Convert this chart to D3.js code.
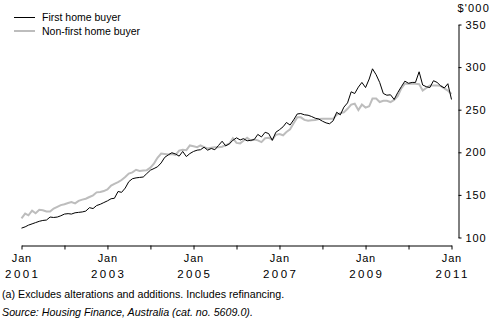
<!DOCTYPE html>
<html><head><meta charset="utf-8">
<script src="https://cdn.jsdelivr.net/npm/d3@7"></script>
<style>
body{margin:0;background:#fff;}
svg{display:block;font-family:"Liberation Sans",Arial,sans-serif;}
</style></head>
<body><svg id="c" width="496" height="331"></svg>
<script>
const startYear = 2001, endYear = 2011;
const seriesNames = ["First home buyer", "Non-first home buyer"];
const firstHome = [
111,112.5,114.5,116,117.5,119,120,120.5,124,123.5,124,125.5,
127.5,128,127.5,129,129.5,130,131,135,134,137.5,139,141,
143,145.5,146,154,153,158,165.5,169,170,170.5,171,175,
179,181,183,187.5,194,197,199.5,198,195.5,201,195,198.5,
201,202.5,203,206,202.5,204.5,203,208,213,207.5,210,214,
217,214.5,216,213.5,214,215,221,218,223.5,222,214,223.5,
226.5,230,235,232,238,245,245.5,244,243.5,242,240,239,
236.5,234.5,233.5,237,247,244,253,258,271,269,276.5,282,
276,286,298,291,282,269,267,267.5,262,270,277,283.5,
281,282,282,294.5,279,277,276,284,282,278,275.5,280.5,
262];
const nonFirstHome = [
122.5,128,126,131.5,128.5,132.5,132,130.5,130.5,134,136,138,
139,140.5,141.5,140,143,144.5,145.5,147.5,149.5,153,153.5,154.5,
156.5,161,163,165,167.5,171,175,176.5,179.5,178,178.5,179,
182,187,193.5,198.5,198,197.5,198,197,202,203,202.5,208,
207,206,208,206,204.5,205.5,206,206,206.5,208.5,210,216.5,
211,210.5,213.5,217,214,215,214,212,216.5,217,215,220.5,
221.5,220,223.8,227,234,241,241,238,237,237.5,238,239,
239.5,239.5,239.5,239.5,244,246,247,251,256,257,249.5,256,
252.5,254,263,263,259,260.5,260.5,259,261.5,266,275,280.5,
280.5,280.5,280.5,280,272.5,275.5,278.5,278.5,278.5,278,275,272.5,
268.5];
const yTicks = [100,150,200,250,300,350];
const yUnit = "$'000";
const footnote = "(a) Excludes alterations and additions. Includes refinancing.";
const source = "Source: Housing Finance, Australia (cat. no. 5609.0).";

const dates = firstHome.map((d,i)=>new Date(startYear, i, 1));
const svg = d3.select("#c");
const x = d3.scaleTime().domain([new Date(startYear,0,1), new Date(endYear,0,1)]).range([21.5, 451.5]);
const y = d3.scaleLinear().domain([100,350]).range([237.5, 24.5]);

// x axis
const xAxisY = 245.5;
const xg = svg.append("g").attr("transform",`translate(0,${xAxisY})`)
  .call(d3.axisBottom(x).ticks(d3.timeYear.every(1)).tickSize(4).tickSizeOuter(0).tickFormat(""));
xg.select(".domain").attr("stroke","#000");
xg.selectAll(".tick line").attr("stroke","#000");
const labelYears = d3.range(startYear, endYear+1, 2);
labelYears.forEach(yr=>{
  const cx = x(new Date(yr,0,1));
  svg.append("text").attr("x", cx+0.4).attr("y", 262).attr("text-anchor","middle")
    .attr("font-size", 11).attr("letter-spacing",0.8).text("Jan");
  svg.append("text").attr("x", cx+1.2).attr("y", 277.5).attr("text-anchor","middle")
    .attr("font-size", 11.5).attr("letter-spacing",2.4).text(String(yr));
});

// y axis
const yg = svg.append("g").attr("transform","translate(458.5,0)")
  .call(d3.axisRight(y).tickValues(yTicks).tickSize(3).tickSizeOuter(0).tickPadding(4));
yg.select(".domain").attr("stroke","#000");
yg.selectAll(".tick line").attr("stroke","#000");
yg.selectAll(".tick text").attr("font-size",11).attr("fill","#000").attr("letter-spacing",0.9)
  .attr("font-family","Liberation Sans, Arial, sans-serif");
svg.append("text").attr("x",490).attr("y",12).attr("text-anchor","end").attr("font-size",11)
  .attr("letter-spacing",1.2).text(yUnit);

// lines
const line = d3.line().x((d,i)=>x(dates[i])).y(d=>y(d));
svg.append("path").datum(nonFirstHome).attr("d",line).attr("fill","none").attr("stroke","#bdbdbd").attr("stroke-width",2);
svg.append("path").datum(firstHome).attr("d",line).attr("fill","none").attr("stroke","#000").attr("stroke-width",1);

// legend
const leg = [{name:seriesNames[0], c:"#000", w:1},{name:seriesNames[1], c:"#bdbdbd", w:2}];
leg.forEach((l,i)=>{
  const ly = 17.5 + i*13.5;
  svg.append("line").attr("x1",14).attr("x2",35).attr("y1",ly).attr("y2",ly).attr("stroke",l.c).attr("stroke-width",l.w);
  svg.append("text").attr("x",42).attr("y",ly+3.5).attr("font-size",10.5).text(l.name);
});

// footnotes
svg.append("text").attr("x",2).attr("y",298).attr("font-size",10.7).text(footnote);
svg.append("text").attr("x",2).attr("y",316).attr("font-size",10.7).attr("font-style","italic").text(source);
</script></body></html>
